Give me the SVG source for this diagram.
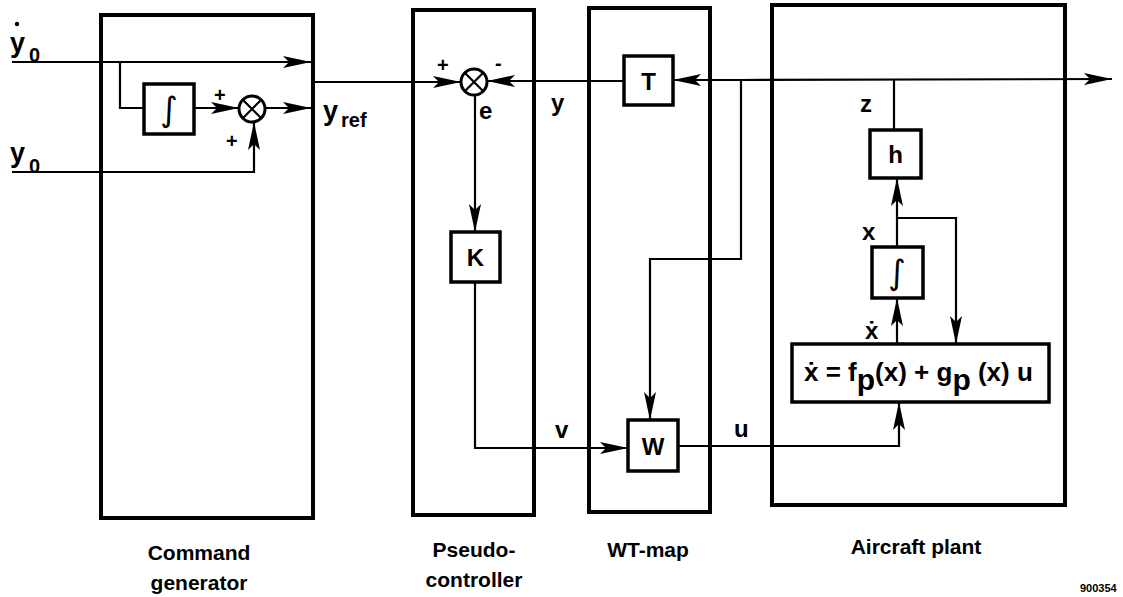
<svg xmlns="http://www.w3.org/2000/svg" width="1123" height="597" viewBox="0 0 1123 597">
<style>
.frame{fill:none;stroke:#000;stroke-width:4}
.blk{fill:#fff;stroke:#000;stroke-width:3.5}
.ln{fill:none;stroke:#000;stroke-width:2.2}
.arr{fill:none;stroke:#000;stroke-width:2.2;marker-end:url(#ah)}
text{font-family:"Liberation Sans",Arial,sans-serif;font-weight:bold;fill:#000}
.lbl{font-size:20px}
.sym{font-size:24px}
.big{font-size:27px}
.cap{font-size:21px;text-anchor:middle}
.int{font-family:"DejaVu Sans",sans-serif;font-weight:normal;font-size:34px;text-anchor:middle}
</style>
<defs>
<marker id="ah" viewBox="0 0 28 12" refX="28" refY="6" markerWidth="28" markerHeight="12" markerUnits="userSpaceOnUse" orient="auto">
<path d="M0,0 L28,6 L0,12 L6,6 Z" fill="#000"/>
</marker>
</defs>
<rect width="1123" height="597" fill="#fff"/>

<g id="command-generator">
<rect class="frame" x="101" y="15" width="212" height="503"/>
<rect class="blk" x="144" y="84" width="50" height="50"/>
<text class="int" x="169" y="121">∫</text>
<circle cx="252" cy="109" r="13" fill="#fff" stroke="#000" stroke-width="3"/>
<path class="ln" d="M243,100 L261,118 M261,100 L243,118" stroke-width="3"/>
<text class="lbl" x="214" y="102">+</text>
<text class="lbl" x="226" y="148">+</text>
<text class="cap" x="199" y="560">Command</text>
<text class="cap" x="199" y="590">generator</text>
</g>

<g id="pseudo-controller">
<rect class="frame" x="413" y="10" width="121" height="505"/>
<circle cx="474" cy="82" r="13" fill="#fff" stroke="#000" stroke-width="3"/>
<path class="ln" d="M465,73 L483,91 M483,73 L465,91" stroke-width="3"/>
<text class="lbl" x="437" y="72">+</text>
<text class="lbl" x="495" y="70">-</text>
<text class="sym" x="479" y="119">e</text>
<rect class="blk" x="451" y="232" width="49" height="50"/>
<text class="sym" x="475.5" y="266" text-anchor="middle">K</text>
<text class="cap" x="474" y="557">Pseudo-</text>
<text class="cap" x="474" y="587">controller</text>
</g>

<g id="wt-map">
<rect class="frame" x="589" y="8" width="121" height="504"/>
<rect class="blk" x="624" y="56" width="49" height="49"/>
<text class="sym" x="648.5" y="90" text-anchor="middle">T</text>
<rect class="blk" x="628" y="420" width="50" height="51"/>
<text class="sym" x="653" y="455" text-anchor="middle">W</text>
<text class="cap" x="648" y="557">WT-map</text>
</g>

<g id="aircraft-plant">
<rect class="frame" x="772" y="5" width="293" height="500"/>
<rect class="blk" x="870" y="130" width="51" height="48"/>
<text class="sym" x="895.5" y="163" text-anchor="middle">h</text>
<rect class="blk" x="872" y="247" width="51" height="51"/>
<text class="int" x="897" y="284">∫</text>
<rect class="blk" x="792" y="344" width="257" height="58"/>
<text x="804" y="381" font-size="26">ẋ = f<tspan font-size="30" dy="9">p</tspan><tspan dy="-9">(x) + g</tspan><tspan font-size="30" dy="9">p</tspan><tspan dy="-9"> (x) u</tspan></text>
<text class="sym" x="860" y="112">z</text>
<text class="sym" x="862" y="240">x</text>
<text class="sym" x="865" y="339">ẋ</text>
<text class="cap" x="916" y="554">Aircraft plant</text>
</g>

<g id="connectors">
<path class="arr" d="M12,62 L311,62"/>
<path class="ln" d="M120,62 L120,108 L144,108"/>
<path class="arr" d="M194,108 L239,108"/>
<path class="arr" d="M265,108 L311,108"/>
<path class="arr" d="M12,172 L254,172 L254,122"/>
<path class="arr" d="M313,82 L461,82"/>
<path class="arr" d="M624,81 L487,81"/>
<path class="arr" d="M741,80 L673,80"/>
<path class="arr" d="M741,80 L1112,79"/>
<path class="ln" d="M894,80 L894,130"/>
<path class="arr" d="M741,80 L741,259 L650,259 L650,420"/>
<path class="arr" d="M475,95 L475,232"/>
<path class="arr" d="M475,282 L475,448 L628,448"/>
<path class="arr" d="M678,446 L899,446 L899,402"/>
<path class="arr" d="M897,344 L897,298"/>
<path class="arr" d="M897,247 L897,178"/>
<path class="arr" d="M897,218 L956,218 L956,344"/>
</g>

<g id="labels">
<text class="big" x="10" y="52">y</text>
<circle cx="17" cy="24" r="2.2" fill="#000"/>
<text class="lbl" x="29" y="62">0</text>
<text class="big" x="10" y="162">y</text>
<text class="lbl" x="29" y="173">0</text>
<text class="big" x="323" y="120">y</text>
<text class="lbl" x="341" y="127">ref</text>
<text class="sym" x="551" y="111">y</text>
<text class="sym" x="555" y="438">v</text>
<text class="sym" x="734" y="437">u</text>
<text x="1080" y="592" font-size="11" font-weight="normal">900354</text>
</g>
</svg>
